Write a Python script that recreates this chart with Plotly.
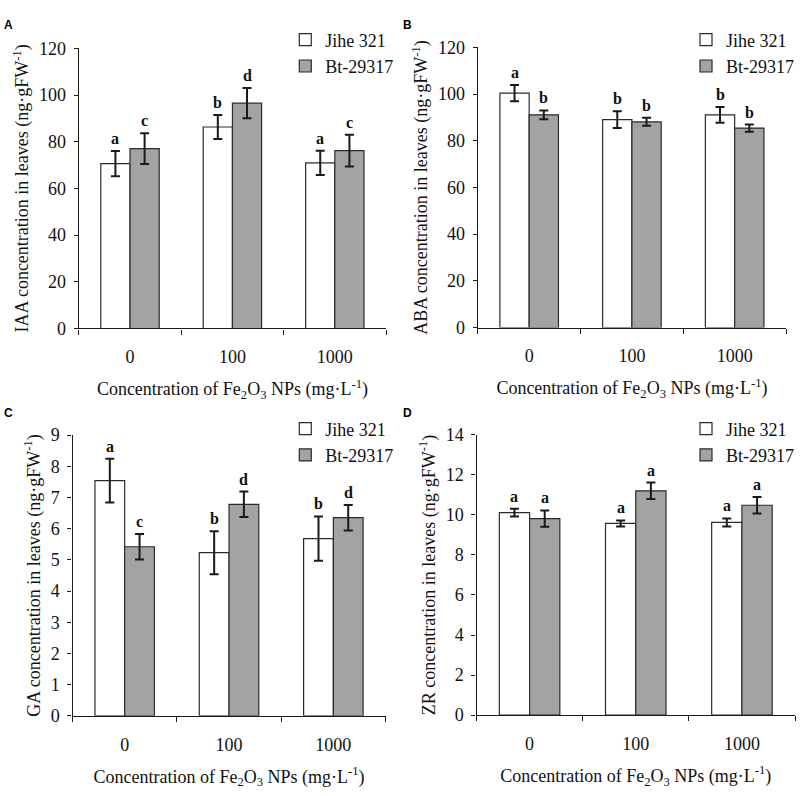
import plotly.graph_objects as go

categories = ["0", "100", "1000"]
series_names = ["Jihe 321", "Bt-29317"]

iaa_jihe = [70.6, 86.3, 70.9]
iaa_jihe_err = [5.4, 5.1, 5.2]
iaa_bt = [77.0, 96.5, 76.2]
iaa_bt_err = [6.6, 6.5, 6.8]
iaa_letters_jihe = ["a", "b", "a"]
iaa_letters_bt = ["c", "d", "c"]

aba_jihe = [100.4, 89.0, 91.1]
aba_jihe_err = [3.5, 3.6, 3.4]
aba_bt = [91.1, 88.1, 85.4]
aba_bt_err = [1.9, 1.7, 1.5]
aba_letters_jihe = ["a", "b", "b"]
aba_letters_bt = ["b", "b", "b"]

ga_jihe = [7.54, 5.23, 5.68]
ga_jihe_err = [0.70, 0.69, 0.71]
ga_bt = [5.42, 6.78, 6.35]
ga_bt_err = [0.41, 0.41, 0.41]
ga_letters_jihe = ["a", "b", "b"]
ga_letters_bt = ["c", "d", "d"]

zr_jihe = [10.11, 9.57, 9.62]
zr_jihe_err = [0.19, 0.15, 0.20]
zr_bt = [9.81, 11.20, 10.48]
zr_bt_err = [0.41, 0.41, 0.41]
zr_letters_jihe = ["a", "a", "a"]
zr_letters_bt = ["a", "a", "a"]

panels = [
    dict(label="A", hormone="IAA", jihe=iaa_jihe, jihe_err=iaa_jihe_err, bt=iaa_bt, bt_err=iaa_bt_err,
         lj=iaa_letters_jihe, lb=iaa_letters_bt, yrange=[0, 120], dtick=20),
    dict(label="B", hormone="ABA", jihe=aba_jihe, jihe_err=aba_jihe_err, bt=aba_bt, bt_err=aba_bt_err,
         lj=aba_letters_jihe, lb=aba_letters_bt, yrange=[0, 120], dtick=20),
    dict(label="C", hormone="GA", jihe=ga_jihe, jihe_err=ga_jihe_err, bt=ga_bt, bt_err=ga_bt_err,
         lj=ga_letters_jihe, lb=ga_letters_bt, yrange=[0, 9], dtick=1),
    dict(label="D", hormone="ZR", jihe=zr_jihe, jihe_err=zr_jihe_err, bt=zr_bt, bt_err=zr_bt_err,
         lj=zr_letters_jihe, lb=zr_letters_bt, yrange=[0, 14], dtick=2),
]

W, H = 800, 796
# plot areas in pixels: (left, right, top, bottom)
areas = [
    (79, 387, 39.3, 326.7),
    (479, 788, 38.3, 325.7),
    (72.7, 386.5, 436, 724),
    (477.7, 797, 435.7, 723.3),
]
letter_pos = [(2, 6), (402, 6), (2, 404), (402, 404)]
# legend: (left x, vertical middle)
legend_pos = [(286, 44), (688, 44), (286, 443), (688, 443)]

SERIF = "Liberation Serif, Times New Roman, serif"
WHITE_FILL = "#ffffff"
GRAY_FILL = "#a3a3a3"
EDGE = "#2b2b2b"
TXT = "#111111"

fig = go.Figure()
x_idx = list(range(len(categories)))
annotations = []
layout = {}

for k, p in enumerate(panels):
    n = "" if k == 0 else str(k + 1)
    xa, ya = "x" + n, "y" + n
    leg = "legend" + n
    for name, vals, errs, fill in [(series_names[0], p["jihe"], p["jihe_err"], WHITE_FILL),
                                   (series_names[1], p["bt"], p["bt_err"], GRAY_FILL)]:
        fig.add_trace(go.Bar(
            x=x_idx, y=vals, name=name, xaxis=xa, yaxis=ya, legend=leg,
            marker=dict(color=fill, line=dict(color=EDGE, width=1.2)),
            error_y=dict(type="data", array=errs, visible=True, color="#1a1a1a", thickness=2, width=4.5),
        ))
    L, R, T, B = areas[k]
    layout["xaxis" + n] = dict(
        domain=[L / W, R / W], anchor=ya, range=[-0.5, 2.5],
        tickmode="array", tickvals=x_idx, ticktext=categories, ticks="",
        showline=True, linecolor="#1a1a1a", linewidth=1.3, showgrid=False, zeroline=False,
        tickfont=dict(family=SERIF, size=18, color=TXT), ticklabelstandoff=12,
        minor=dict(tickmode="array", tickvals=[-0.5, 0.5, 1.5, 2.5], ticks="outside",
                   ticklen=5, tickcolor="#1a1a1a", tickwidth=1.3, showgrid=False),
        title=dict(text="Concentration of Fe<sub>2</sub>O<sub>3</sub> NPs (mg·L<sup>-1</sup>)",
                   font=dict(family=SERIF, size=18, color=TXT), standoff=16),
        fixedrange=True,
    )
    layout["yaxis" + n] = dict(
        domain=[1 - B / H, 1 - T / H], anchor=xa, range=p["yrange"], dtick=p["dtick"],
        ticks="outside", ticklen=4, tickcolor="#1a1a1a", tickwidth=1.3,
        showline=True, linecolor="#1a1a1a", linewidth=1.3, showgrid=False, zeroline=False,
        tickfont=dict(family=SERIF, size=18, color=TXT), ticklabelstandoff=4,
        title=dict(text=p["hormone"] + " concentration in leaves (ng·gFW<sup>-1</sup>)",
                   font=dict(family=SERIF, size=18, color=TXT), standoff=5),
        fixedrange=True,
    )
    lx, ly = legend_pos[k]
    layout[leg] = dict(
        x=lx / W, y=1 - ly / H, xanchor="left", yanchor="middle", xref="paper", yref="paper",
        bgcolor="rgba(0,0,0,0)", borderwidth=0, tracegroupgap=0,
        font=dict(family=SERIF, size=18, color=TXT), itemwidth=30,
    )
    # significance letters
    for i in x_idx:
        for dx, vals, errs, letters in [(-0.1425, p["jihe"], p["jihe_err"], p["lj"]),
                                        (0.1425, p["bt"], p["bt_err"], p["lb"])]:
            annotations.append(dict(
                x=i + dx, y=vals[i] + errs[i], xref=xa, yref=ya, text="<b>" + letters[i] + "</b>",
                showarrow=False, yanchor="bottom", xanchor="center", yshift=2,
                font=dict(family=SERIF, size=16, color=TXT),
            ))
    bx, by = letter_pos[k]
    annotations.append(dict(
        x=bx / W, y=1 - by / H, xref="paper", yref="paper", text="<b>" + p["label"] + "</b>",
        showarrow=False, xanchor="left", yanchor="top",
        font=dict(family="Liberation Sans, Arial, sans-serif", size=12, color="#000000"),
    ))

fig.update_layout(
    width=W, height=H, margin=dict(l=0, r=0, t=0, b=0),
    paper_bgcolor="white", plot_bgcolor="white",
    barmode="group", bargap=0.43, bargroupgap=0,
    annotations=annotations, showlegend=True,
    **layout,
)

fig.write_html(
    "out.html",
    config={"displayModeBar": False},
    post_script="document.body.style.margin='0';document.body.style.overflow='hidden';",
)
